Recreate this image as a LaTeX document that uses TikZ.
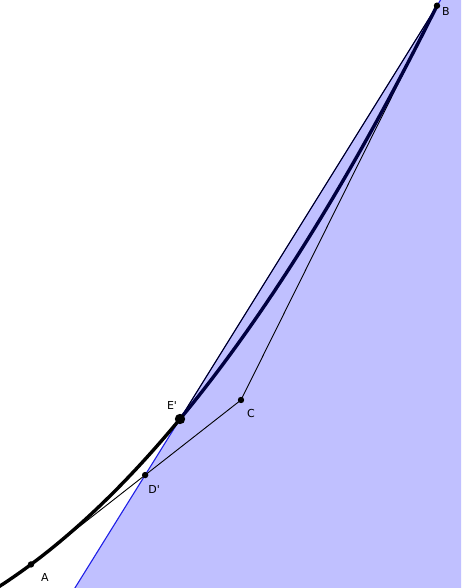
\documentclass[tikz,border=0pt]{standalone}
\usepackage{fontspec}
\setsansfont{DejaVu Sans}
\usepackage{tikz}
\usetikzlibrary{calc}
\definecolor{regionfill}{RGB}{192,192,255}
\definecolor{edgeblue}{RGB}{30,30,230}
\definecolor{arcnavy}{RGB}{0,0,64}

\begin{document}
\begin{tikzpicture}[x=100pt, y=100pt,
    ptlabel/.style={font=\sffamily\fontsize{11}{13}\selectfont, inner sep=0pt},
    thinline/.style={line width=0.9pt, black},
    arcline/.style={line width=3.4pt, line cap=round}]
    \useasboundingbox (0,0) rectangle (4.61,5.88);
    \clip (0,0) rectangle (4.61,5.88);

    % Points of the construction
    \coordinate (A) at (0.31, {0.02+0.6475*0.31+0.1557*0.31*0.31});
    \coordinate (E) at (1.80, {0.02+0.6475*1.80+0.1557*1.80*1.80});
    \coordinate (B) at (4.37, {0.02+0.6475*4.37+0.1557*4.37*4.37});
    \coordinate (C) at (2.41, 1.88);
    \coordinate (D) at (intersection of A--C and E--B);
    \coordinate (lowend) at ($(E)!-0.41!(B)$);
    \coordinate (highend) at ($(E)!1.02!(B)$);

    % Shaded half plane right of the line through D' and B
    \fill[regionfill] (lowend) -- (highend) -- (4.61,5.88) -- (4.61,0) -- cycle;
    \draw[edgeblue, line width=1.1pt] (lowend) -- (highend);
    \draw[thinline] (E) -- (B);

    % Tangent lines at A and B
    \draw[thinline] (A) -- (C) -- (B);

    % The curve
    \draw[arcline, black] plot[domain=-0.05:1.80, samples=50, smooth]
        (\x, {0.02+0.6475*\x+0.1557*\x*\x});
    \draw[arcline, arcnavy] plot[domain=1.80:4.37, samples=60, smooth]
        (\x, {0.02+0.6475*\x+0.1557*\x*\x});

    % Marked points
    \fill (A) circle (3.2pt);
    \fill (B) circle (3.2pt);
    \fill (C) circle (3.2pt);
    \fill (D) circle (3.2pt);
    \fill (E) circle (5.2pt);

    \node[ptlabel] (labA) at ($(A)+(14pt,-13pt)$) {A};
    \node[ptlabel] (labB) at ($(B)+(9pt,-6pt)$) {B};
    \node[ptlabel] (labC) at ($(C)+(10pt,-13pt)$) {C};
    \node[ptlabel] (labD) at ($(D)+(9pt,-14pt)$) {D\textquotesingle};
    \node[ptlabel] (labE) at ($(E)+(-8pt,14pt)$) {E\textquotesingle};
\end{tikzpicture}
\end{document}
